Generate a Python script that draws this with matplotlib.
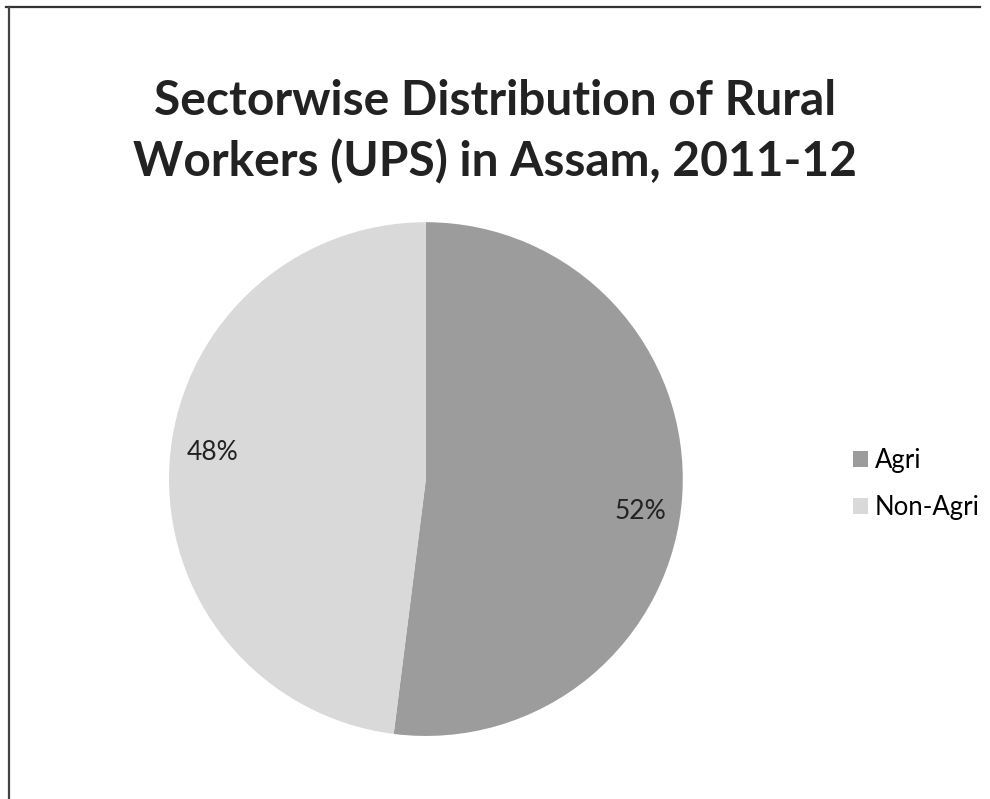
import matplotlib
matplotlib.use("Agg")
import matplotlib.pyplot as plt
from matplotlib.lines import Line2D

sectors = ["Agri", "Non-Agri"]
shares = [52, 48]
colors = ["#9c9c9c", "#d9d9d9"]
title = "Sectorwise Distribution of Rural\nWorkers (UPS) in Assam, 2011-12"

plt.rcParams["font.family"] = ["Lato", "DejaVu Sans"]

fig = plt.figure(figsize=(9.9, 7.99), dpi=100)
fig.patch.set_facecolor("white")

# chart frame (top and left edges)
fig.add_artist(Line2D([0.006, 0.99], [0.991, 0.991], color="#333333", lw=1.6,
                      transform=fig.transFigure))
fig.add_artist(Line2D([0.009, 0.009], [0.0, 0.991], color="#444444", lw=1.6,
                      transform=fig.transFigure))

fig.text(0.50, 0.835, title, ha="center", va="center", fontsize=34.5,
         fontweight="bold", color="#222222", linespacing=1.42)

ax = fig.add_axes([0.1707, 0.0789, 0.519, 0.643])
wedges, texts, autotexts = ax.pie(
    shares, colors=colors, startangle=90, counterclock=False,
    autopct=lambda p: f"{p:.0f}%", pctdistance=0.84,
    textprops=dict(fontsize=19, color="#222222"),
    wedgeprops=dict(linewidth=0),
)
ax.set_xlim(-1, 1)
ax.set_ylim(-1, 1)
ax.set_aspect("equal")

# data labels sit slightly clockwise of the slice midpoints
label_pos = [(0.834, -0.125), (-0.829, 0.105)]
for t, pos in zip(autotexts, label_pos):
    t.set_position(pos)

leg = fig.legend(wedges, sectors, loc="center left", bbox_to_anchor=(0.838, 0.394),
                 frameon=False, fontsize=18.5, handlelength=0.6, handleheight=0.6,
                 handletextpad=0.25, labelspacing=0.85)

fig.savefig("out.png", dpi=100, facecolor="white")
